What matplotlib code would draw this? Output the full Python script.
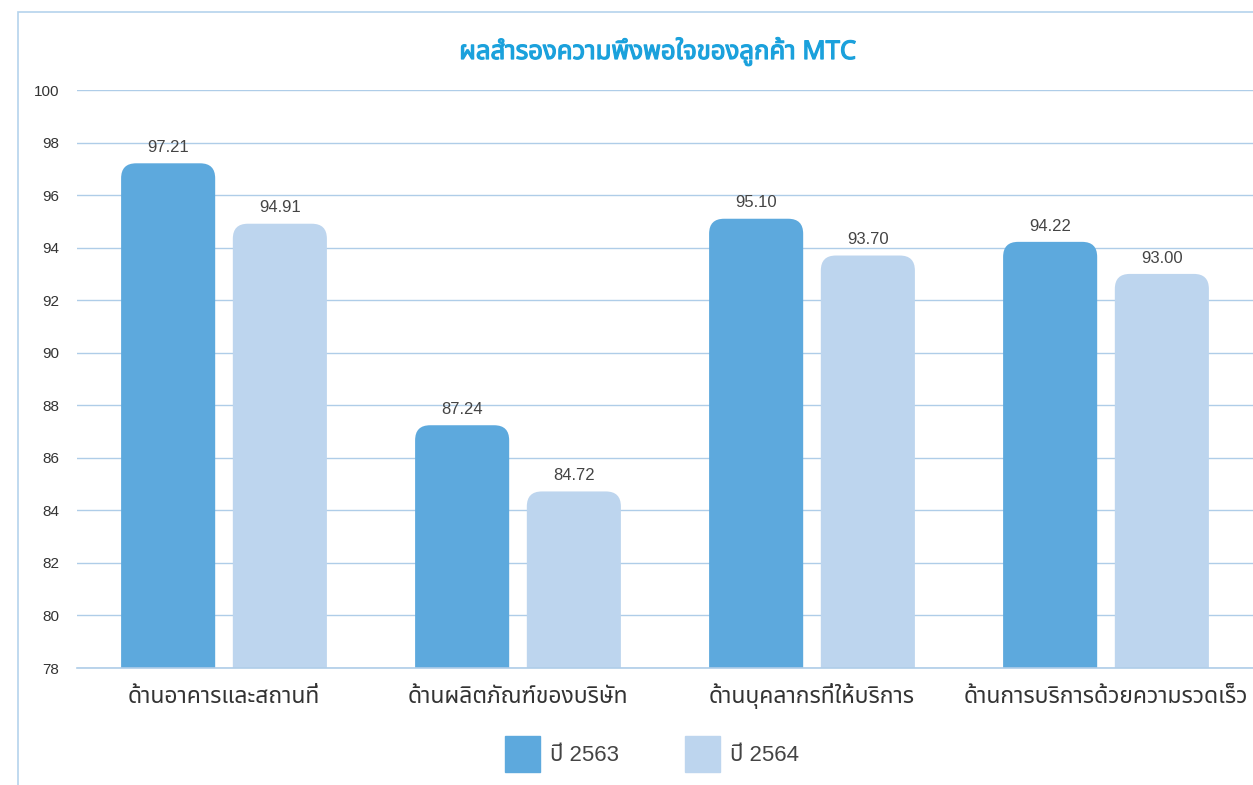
"""Customer satisfaction survey bars (MTC), 2563 vs 2564."""

import matplotlib

matplotlib.use("Agg")
import matplotlib.patheffects as pe
import matplotlib.pyplot as plt
import numpy as np
from matplotlib import font_manager
from matplotlib.patches import FancyBboxPatch, Rectangle

CATEGORIES = [
    "ด้านอาคารและสถานที่",
    "ด้านผลิตภัณฑ์ของบริษัท",
    "ด้านบุคลากรที่ให้บริการ",
    "ด้านการบริการด้วยความรวดเร็ว",
]
SERIES = ["ปี 2563", "ปี 2564"]
VALUES_2563 = [97.21, 87.24, 95.10, 94.22]
VALUES_2564 = [94.91, 84.72, 93.70, 93.00]
Y_TICKS = list(range(78, 101, 2))
TITLE = "ผลสำรองความพึงพอใจของลูกค้า MTC"

DARK = "#5DA9DD"
LIGHT = "#BDD5EE"
GRID = "#AFCDE8"
TITLE_C = "#1BA1DC"

_installed = {f.name for f in font_manager.fontManager.ttflist}
THAI = next((n for n in ["Noto Sans Thai", "Kanit", "Prompt", "Mitr", "K2D",
                         "Sarabun", "Athiti", "Loma"] if n in _installed),
            "DejaVu Sans")
FAM = [THAI, "Liberation Sans", "DejaVu Sans"]
NUM = ["Liberation Sans", THAI, "DejaVu Sans"]

fig = plt.figure(figsize=(12.53, 7.85), dpi=100)
fig.patches.append(Rectangle((18 / 1253, -0.1), 1.2, 1.1 - 12 / 785,
                             transform=fig.transFigure, fill=False,
                             edgecolor="#B5D3EC", linewidth=1.2))
ax = fig.add_axes([77 / 1253, 1 - 668 / 785, 1 - 77 / 1253, (668 - 90) / 785])

x = np.arange(len(CATEGORIES))
w = 0.32
off = 0.19
ax.set_xlim(-0.5, len(CATEGORIES) - 0.5)
ax.set_ylim(78, 100)

# rounded-top bars: aspect ratio from data units per pixel
px_x = (1253 - 77) / 4.0
px_y = (668 - 90) / 22.0
aspect = px_x / px_y
r = 15 / px_x

for vals, color, dx in [(VALUES_2563, DARK, -off), (VALUES_2564, LIGHT, off)]:
    bars = ax.bar(x + dx, vals, width=w, color=color, bottom=0)
    for b, v in zip(bars, vals):
        b.set_visible(False)
        patch = FancyBboxPatch((b.get_x(), 70), w, v - 70,
                               boxstyle=f"round,pad=0,rounding_size={r}",
                               mutation_aspect=aspect, facecolor=color,
                               edgecolor="none", zorder=3)
        ax.add_patch(patch)
        ax.annotate(f"{v:.2f}", (b.get_x() + w / 2, v), xytext=(0, 6),
                    textcoords="offset points", ha="center", va="bottom",
                    fontsize=12, color="#444444", family=NUM)

ax.set_yticks(Y_TICKS)
ax.set_yticklabels([str(t) for t in Y_TICKS], family=NUM, fontsize=11,
                   color="#333333")
ax.set_xticks(x)
ax.set_xticklabels(CATEGORIES, family=FAM, fontsize=16.5, color="#333333")
for lbl in ax.get_xticklabels():
    lbl.set_va("baseline")
ax.tick_params(axis="both", length=0)
ax.tick_params(axis="y", pad=13)
ax.tick_params(axis="x", pad=25)
ax.grid(True, axis="y", color=GRID, linewidth=1.0, zorder=0)
ax.set_axisbelow(True)
for s in ax.spines.values():
    s.set_visible(False)
ax.spines["bottom"].set_visible(True)
ax.spines["bottom"].set_color(GRID)
ax.spines["bottom"].set_linewidth(1.2)
ax.spines["bottom"].set_zorder(4)

t = fig.text(658 / 1253, 1 - 52 / 785, TITLE, ha="center", va="center",
             fontsize=18.5, fontweight="bold", color=TITLE_C, family=FAM)
t.set_path_effects([pe.withStroke(linewidth=0.9, foreground=TITLE_C)])

handles = [Rectangle((0, 0), 1, 1, color=c) for c in (DARK, LIGHT)]
fig.legend(handles, SERIES, loc="center", bbox_to_anchor=(652 / 1253, 1 - 754 / 785),
           ncol=2, frameon=False, prop={"family": NUM, "size": 16},
           handlelength=1.55, handleheight=2.1, handletextpad=0.45,
           columnspacing=3.0, labelcolor="#444444")

fig.savefig("out.png", dpi=100)
